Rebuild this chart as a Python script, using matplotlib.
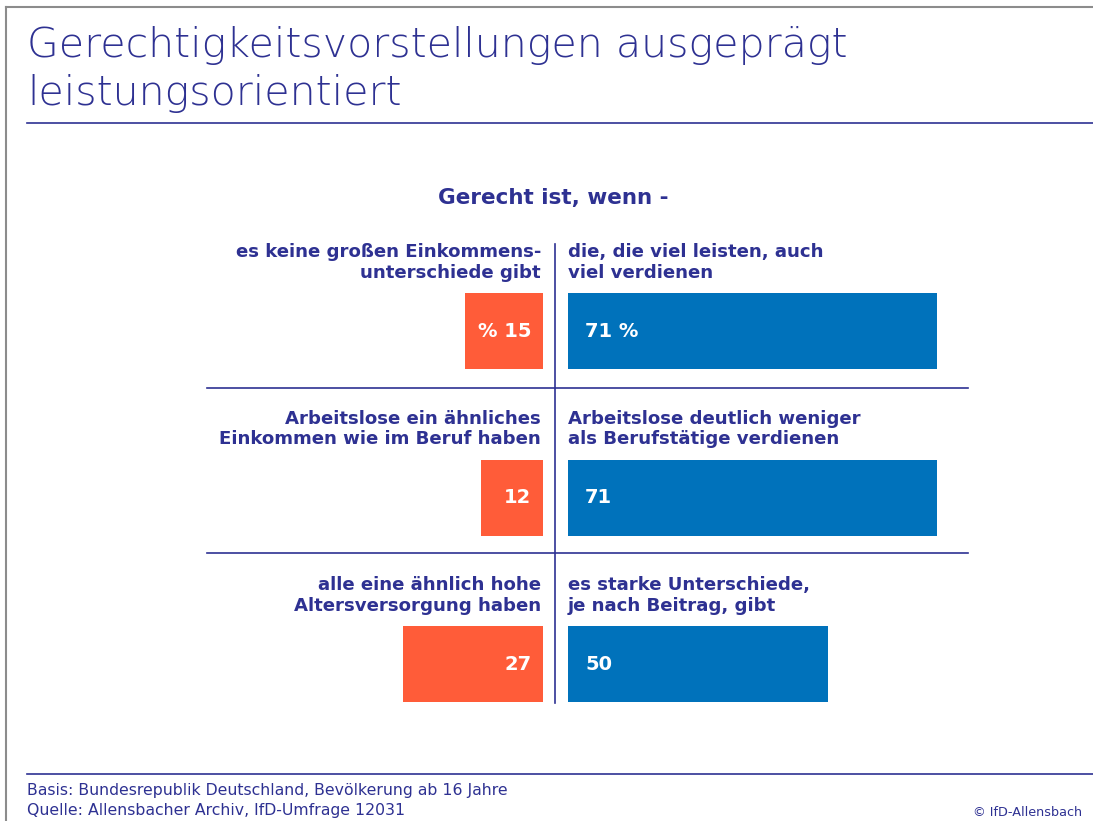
import matplotlib.pyplot as plt

# data
left_labels = ["es keine großen Einkommens-\nunterschiede gibt",
               "Arbeitslose ein ähnliches\nEinkommen wie im Beruf haben",
               "alle eine ähnlich hohe\nAltersversorgung haben"]
right_labels = ["die, die viel leisten, auch\nviel verdienen",
                "Arbeitslose deutlich weniger\nals Berufstätige verdienen",
                "es starke Unterschiede,\nje nach Beitrag, gibt"]
left_vals = [15, 12, 27]
right_vals = [71, 71, 50]
left_txt = ["% 15", "12", "27"]
right_txt = ["71 %", "71", "50"]

NAVY = "#2e3192"
ORANGE = "#ff5c39"
BLUE = "#0072bb"
W, H = 1093, 821

fig = plt.figure(figsize=(W / 100, H / 100), dpi=100)
bg = fig.add_axes([0, 0, 1, 1])
bg.set_xlim(0, W)
bg.set_ylim(H, 0)
bg.axis("off")

# frame and rules
bg.plot([6, 6], [7, H], color="#8c8c8c", lw=1.5)
bg.plot([6, W], [7, 7], color="#8c8c8c", lw=1.5)
bg.plot([27, W], [123, 123], color=NAVY, lw=1.2)
bg.plot([27, W], [774, 774], color=NAVY, lw=1.2)
bg.plot([555, 555], [244, 703], color=NAVY, lw=1.2)
for y in (388, 553):
    bg.plot([207, 968], [y, y], color=NAVY, lw=1.2)

title_kw = dict(fontsize=29.6, color=NAVY, fontweight="light", va="baseline", ha="left")
bg.text(27, 57, "Gerechtigkeitsvorstellungen ausgeprägt", **title_kw)
bg.text(27, 105, "leistungsorientiert", **title_kw)
bg.text(553, 198, "Gerecht ist, wenn -", fontsize=15.5, color=NAVY,
        fontweight="bold", ha="center", va="center")
bg.text(27, 791, "Basis: Bundesrepublik Deutschland, Bevölkerung ab 16 Jahre",
        fontsize=11.3, color=NAVY, va="center")
bg.text(27, 810, "Quelle: Allensbacher Archiv, IfD-Umfrage 12031",
        fontsize=11.3, color=NAVY, va="center")
bg.text(1082, 812, "© IfD-Allensbach", fontsize=9.2, color=NAVY,
        ha="right", va="center")

# bar axes, 5.2 px per percent
ppu = 5.2
aw = 400
top, bottom = 247.75, 747.25
axL = fig.add_axes([(543 - aw) / W, 1 - bottom / H, aw / W, (bottom - top) / H])
axR = fig.add_axes([568 / W, 1 - bottom / H, aw / W, (bottom - top) / H])
rows = list(range(len(left_vals)))
bh = 76 / 166.5
axL.barh(rows, left_vals, height=bh, color=ORANGE)
axR.barh(rows, right_vals, height=bh, color=BLUE)
axL.set_xlim(aw / ppu, 0)
axR.set_xlim(0, aw / ppu)
for ax in (axL, axR):
    ax.set_ylim(2.5, -0.5)
    ax.axis("off")
    ax.patch.set_alpha(0)

for i in rows:
    axL.text(2.2, i, left_txt[i], color="white", fontsize=14, fontweight="bold",
             ha="right", va="center")
    axR.text(3.3, i, right_txt[i], color="white", fontsize=14, fontweight="bold",
             ha="left", va="center")
    axL.text(0.4, i - 0.41, left_labels[i], color=NAVY, fontsize=13.1,
             fontweight="bold", ha="right", va="center", linespacing=1.18)
    axR.text(0, i - 0.41, right_labels[i], color=NAVY, fontsize=13.1,
             fontweight="bold", ha="left", va="center", linespacing=1.18)

fig.savefig("out.png", dpi=100)
